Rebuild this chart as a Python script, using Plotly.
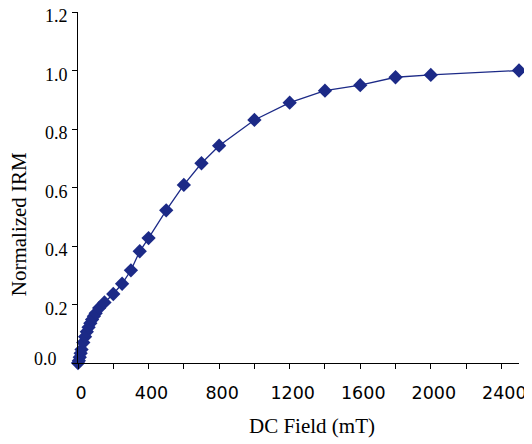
import plotly.graph_objects as go

field_mT = [0, 5, 10, 15, 20, 30, 40, 50, 60, 70, 80, 90, 100, 120, 150,
            200, 250, 300, 350, 400, 500, 600, 700, 800, 1000, 1200, 1400,
            1600, 1800, 2000, 2500]
norm_irm = [0.0, 0.008, 0.02, 0.033, 0.046, 0.07, 0.09, 0.107, 0.122, 0.136,
            0.149, 0.16, 0.17, 0.188, 0.207, 0.236, 0.271, 0.317, 0.382, 0.427,
            0.522, 0.609, 0.683, 0.743, 0.831, 0.89, 0.931, 0.95, 0.977, 0.985,
            1.0]

x_ticks = [0, 400, 800, 1200, 1600, 2000, 2400]
y_ticks = [0.0, 0.2, 0.4, 0.6, 0.8, 1.0, 1.2]
y_ticktext = ["", "0.2", "0.4", "0.6", "0.8", "1.0", "1.2"]
y_zero_label = "0.0"

navy = "#1C2A87"

fig = go.Figure()
fig.add_trace(go.Scatter(
    x=field_mT, y=norm_irm, mode="lines+markers",
    line=dict(color=navy, width=1.3),
    marker=dict(symbol="diamond", size=11, color=navy),
    cliponaxis=False, showlegend=False,
))

# the page body adds an 8px offset, so the figure is 8px smaller and margins shifted
fig.update_layout(
    width=524, height=436,
    margin=dict(l=69.5, r=13, t=4, b=80.5, autoexpand=False),
    paper_bgcolor="white", plot_bgcolor="white",
    font=dict(family="Liberation Serif", color="black"),
    xaxis=dict(
        range=[0, 2500], tickvals=x_ticks, showgrid=False, zeroline=False,
        showline=True, linecolor="black", linewidth=1, automargin=False,
        ticks="outside", ticklen=5, tickcolor="black",
        tickfont=dict(family="DejaVu Sans", size=17.5, color="black"),
        ticklabelstandoff=9, ticklabeloverflow="allow", ticklabelshift=3,
        minor=dict(ticks="outside", ticklen=5, dtick=200, tickcolor="black"),
    ),
    yaxis=dict(
        range=[0, 1.2001], tickvals=y_ticks, ticktext=y_ticktext,
        showgrid=False, zeroline=False, automargin=False,
        showline=True, linecolor="black", linewidth=1,
        ticks="outside", ticklen=5, tickcolor="black",
        tickfont=dict(family="Liberation Serif", size=18, color="black"),
        ticklabelstandoff=1, ticklabeloverflow="allow", ticklabelshift=4,
    ),
    annotations=[
        dict(text=y_zero_label, xref="paper", yref="paper",
             x=-0.0442, y=0.0128, xanchor="right", yanchor="middle",
             showarrow=False, font=dict(family="Liberation Serif", size=18)),
        dict(text="DC Field (mT)", xref="paper", yref="paper",
             x=0.530, y=-0.1805, xanchor="center", yanchor="middle",
             showarrow=False, font=dict(family="Liberation Serif", size=21)),
        dict(text="Normalized IRM", xref="paper", yref="paper",
             x=-0.1348, y=0.394, xanchor="center", yanchor="middle",
             textangle=-90, showarrow=False,
             font=dict(family="Liberation Serif", size=21)),
    ],
)

fig.write_html("out.html")
